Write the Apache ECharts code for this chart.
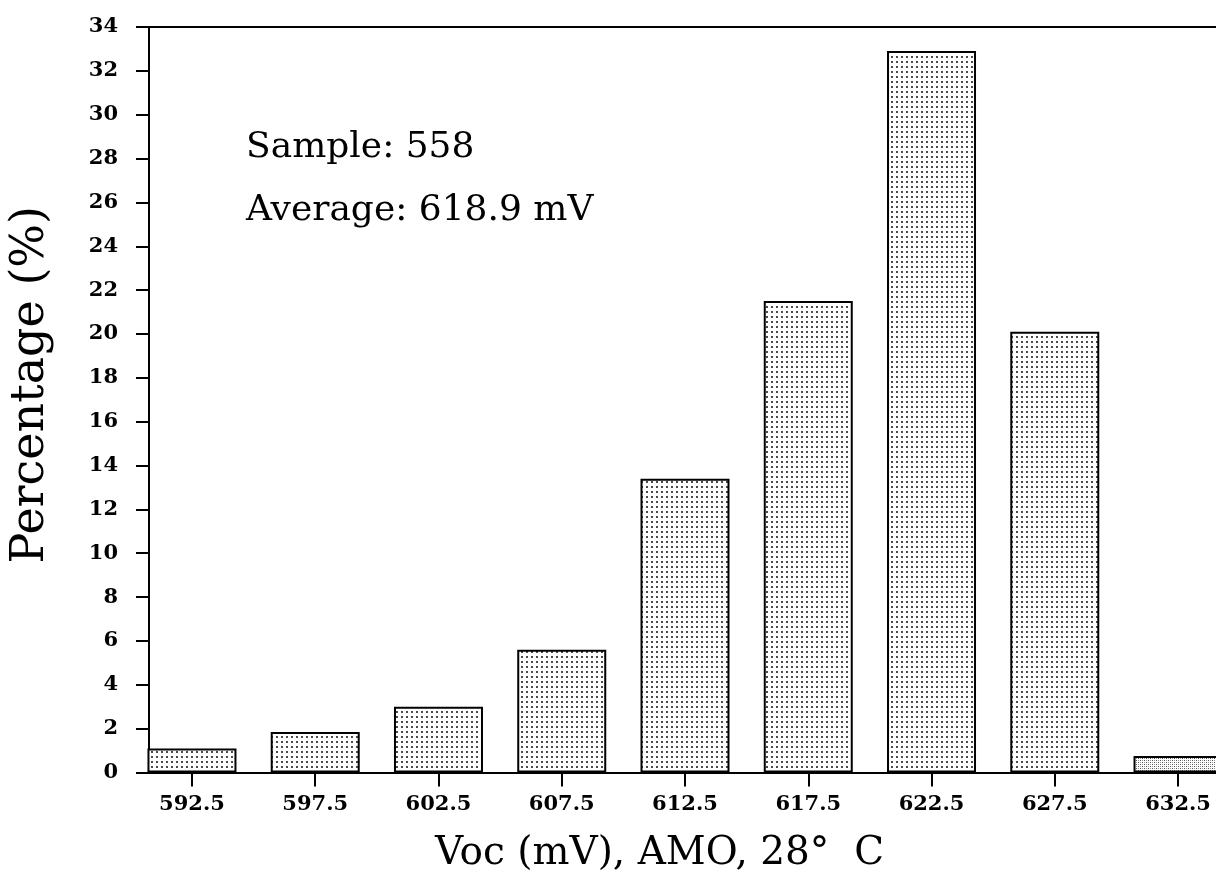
<!DOCTYPE html>
<html>
<head>
<meta charset="utf-8">
<script src="https://cdn.jsdelivr.net/npm/echarts@6/dist/echarts.min.js"></script>
<style>
html,body{margin:0;padding:0;background:#fff;}
#chart{width:1216px;height:884px;}
</style>
</head>
<body>
<div id="chart"></div>
<script>
// Data
const binCenters = [592.5, 597.5, 602.5, 607.5, 612.5, 617.5, 622.5, 627.5, 632.5];
const percentages = [1.1, 1.85, 3.0, 5.6, 13.4, 21.5, 32.9, 20.1, 0.75];
const yTicks = [0, 2, 4, 6, 8, 10, 12, 14, 16, 18, 20, 22, 24, 26, 28, 30, 32, 34];
const xTitle = 'Voc (mV), AMO, 28\u00B0  C';
const yTitle = 'Percentage (%)';
const notes = ['Sample: 558', 'Average: 618.9 mV'];

function dotTile(step, size, color) {
  const c = document.createElement('canvas');
  c.width = step; c.height = step;
  const g = c.getContext('2d');
  g.fillStyle = '#ffffff'; g.fillRect(0, 0, step, step);
  g.fillStyle = color; g.fillRect(1, 1, size, size);
  return c;
}
function denseTile() {
  const c = document.createElement('canvas');
  c.width = 4; c.height = 4;
  const g = c.getContext('2d');
  g.fillStyle = '#ffffff'; g.fillRect(0, 0, 4, 4);
  g.fillStyle = '#555';
  g.fillRect(0, 0, 1, 1); g.fillRect(2, 2, 1, 1);
  g.fillStyle = '#999';
  g.fillRect(2, 0, 1, 1); g.fillRect(0, 2, 1, 1);
  return c;
}
const normalFill = { image: dotTile(5, 2, '#4a4a4a'), repeat: 'repeat' };
const denseFill = { image: denseTile(), repeat: 'repeat' };

const serif = '"DejaVu Serif", "Liberation Serif", serif';
const chart = echarts.init(document.getElementById('chart'), null, { renderer: 'canvas' });

const barData = binCenters.map((c, i) => ({
  value: [c, percentages[i]],
  itemStyle: { color: i === binCenters.length - 1 ? denseFill : normalFill }
}));

chart.setOption({
  animation: false,
  backgroundColor: '#ffffff',
  grid: { left: 148, right: 0, top: 27, bottom: 111.5, containLabel: false },
  xAxis: [{
    type: 'value',
    min: 590.757,
    max: 634.04,
    position: 'bottom',
    name: xTitle,
    nameLocation: 'middle',
    nameGap: 62,
    nameTextStyle: { fontFamily: serif, fontSize: 39, color: '#000', padding: [0, 46, 0, 0] },
    axisLine: { show: true, onZero: false, lineStyle: { color: '#000', width: 2 } },
    axisTick: { show: true, customValues: binCenters, length: 14, inside: false, lineStyle: { color: '#000', width: 2 } },
    axisLabel: {
      customValues: binCenters,
      formatter: v => v.toFixed(1),
      margin: 22,
      fontFamily: serif, fontWeight: 'bold', fontSize: 21, color: '#000'
    },
    splitLine: { show: false }
  }, {
    type: 'value',
    min: 590.757,
    max: 634.04,
    position: 'top',
    axisLine: { show: true, onZero: false, lineStyle: { color: '#000', width: 2 } },
    axisTick: { show: false },
    axisLabel: { show: false },
    splitLine: { show: false }
  }],
  yAxis: {
    type: 'value',
    min: 0,
    max: 34,
    interval: 2,
    name: yTitle,
    nameLocation: 'middle',
    nameGap: 95,
    nameTextStyle: { fontFamily: serif, fontSize: 46, color: '#000', padding: [0, 0, 0, 30] },
    axisLine: { show: true, lineStyle: { color: '#000', width: 2 } },
    axisTick: { show: true, length: 13, inside: false, lineStyle: { color: '#000', width: 2 } },
    axisLabel: {
      customValues: yTicks,
      margin: 31,
      fontFamily: serif, fontWeight: 'bold', fontSize: 21, color: '#000'
    },
    splitLine: { show: false }
  },
  series: [{
    type: 'bar',
    xAxisIndex: 0,
    barWidth: 89,
    clip: true,
    data: barData,
    itemStyle: { borderColor: '#000', borderWidth: 2 }
  }],
  graphic: [
    { type: 'text', left: 246, top: 130, style: { text: notes[0], font: '36px ' + serif, fill: '#000' } },
    { type: 'text', left: 246, top: 193, style: { text: notes[1], font: '36px ' + serif, fill: '#000' } }
  ]
});
</script>
</body>
</html>
